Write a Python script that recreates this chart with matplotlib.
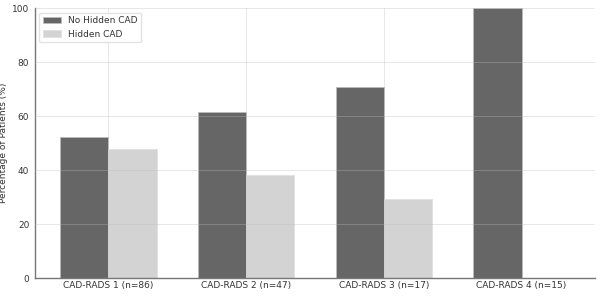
import matplotlib
matplotlib.use("Agg")
import matplotlib.pyplot as plt
import numpy as np

categories = ["CAD-RADS 1 (n=86)", "CAD-RADS 2 (n=47)", "CAD-RADS 3 (n=17)", "CAD-RADS 4 (n=15)"]
no_hidden = [52.3, 61.7, 70.6, 100.0]
hidden = [47.7, 38.3, 29.4, 0.0]

fig, ax = plt.subplots(figsize=(6, 3), dpi=100)
fig.subplots_adjust(left=0.058, right=0.992, top=0.973, bottom=0.073)

x = np.arange(len(categories))
w = 0.35
ax.bar(x, no_hidden, w, color="#666666", edgecolor="#bbbbbb", linewidth=0.6, label="No Hidden CAD", zorder=2)
ax.bar(x + w, hidden, w, color="#d3d3d3", edgecolor="#e0e0e0", linewidth=0.6, label="Hidden CAD", zorder=2)

ax.set_xticks(x + w / 2)
ax.set_xticklabels(categories, fontsize=6.5, color="#333333")
ax.set_ylim(0, 100)
ax.set_yticks([0, 20, 40, 60, 80, 100])
ax.tick_params(axis="y", labelsize=6.5, colors="#333333", length=0, pad=4)
ax.tick_params(axis="x", length=0, pad=2)
ax.set_ylabel("Percentage of Patients (%)", fontsize=6.5, color="#333333")
ax.yaxis.set_label_coords(-0.047, 0.5)

ax.grid(True, color="#bbbbbb", alpha=0.35, linewidth=0.7, zorder=3)
ax.set_axisbelow(False)
for s in ["top", "right"]:
    ax.spines[s].set_visible(False)
for s in ["left", "bottom"]:
    ax.spines[s].set_color("#777777")
    ax.spines[s].set_linewidth(1.0)

leg = ax.legend(loc="upper left", fontsize=6.5, frameon=True, edgecolor="#dddddd", fancybox=True)
for t in leg.get_texts():
    t.set_color("#333333")

fig.savefig("out.png", dpi=100)
